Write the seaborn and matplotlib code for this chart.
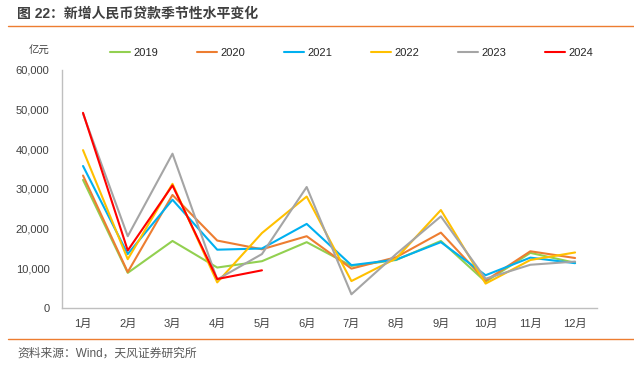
import pandas as pd
import matplotlib.pyplot as plt
import seaborn as sns
from matplotlib.lines import Line2D

# data (亿元)
months = ["1月", "2月", "3月", "4月", "5月", "6月", "7月", "8月", "9月", "10月", "11月", "12月"]
years = ["2019", "2020", "2021", "2022", "2023", "2024"]
y2019 = [32300, 8858, 16900, 10200, 11800, 16600, 10600, 12100, 16900, 6613, 13900, 11400]
y2020 = [33400, 9057, 28500, 17000, 14800, 18100, 9927, 12800, 19000, 6898, 14300, 12600]
y2021 = [35800, 13600, 27300, 14700, 15000, 21200, 10800, 12200, 16600, 8262, 12700, 11300]
y2022 = [39800, 12300, 31300, 6454, 18900, 28100, 6790, 12500, 24700, 6152, 12100, 14000]
y2023 = [49000, 18100, 38900, 7188, 13600, 30500, 3459, 13600, 23100, 7384, 10900, 11700]
y2024 = [49200, 14500, 30900, 7300, 9500]
colors = ["#92D050", "#ED7D31", "#00B0F0", "#FFC000", "#A5A5A5", "#FF0000"]

rows = []
for yr, vals in zip(years, [y2019, y2020, y2021, y2022, y2023, y2024]):
    for m, v in zip(months, vals):
        rows.append({"month": m, "year": yr, "value": v})
df = pd.DataFrame(rows)

sns.set_style("white")
plt.rcParams["font.family"] = ["Liberation Sans", "Noto Sans CJK SC"]

fig = plt.figure(figsize=(6.34, 3.65), dpi=100)
ax = fig.add_axes([62 / 634, 1 - 308 / 365, (597 - 62) / 634, (308 - 70) / 365])

sns.lineplot(data=df, x="month", y="value", hue="year", palette=colors,
             sort=False, linewidth=1.5, ax=ax, legend=False)

ax.set_xlim(-0.47, 11.49)
ax.set_ylim(0, 60000)
ax.set_yticks(range(0, 60001, 10000))
ax.set_yticklabels(["0"] + [f"{v:,}" for v in range(10000, 60001, 10000)])
ax.set_xlabel("")
ax.set_ylabel("")
ax.tick_params(axis="both", length=0, labelsize=8, labelcolor="#404040")
ax.tick_params(axis="x", pad=8)
ax.tick_params(axis="y", pad=9)
for s in ["top", "right"]:
    ax.spines[s].set_visible(False)
for s in ["left", "bottom"]:
    ax.spines[s].set_color("#BFBFBF")
    ax.spines[s].set_linewidth(1)

handles = [Line2D([], [], color=c, lw=1.5) for c in colors]
fig.legend(handles, years, ncol=6, loc="center", bbox_to_anchor=(0.555, 1 - 53 / 365),
           frameon=False, fontsize=8, handlelength=1.8, handletextpad=0.3,
           columnspacing=3.5, labelcolor="#262626")

fig.text(39 / 634, 1 - 51 / 365, "亿元", fontsize=7.5, color="#404040", ha="center", va="center")

fig.text(17 / 634, 1 - 14 / 365, "图 22：新增人民币贷款季节性水平变化", fontsize=10,
         fontweight="bold", color="#404040", ha="left", va="center")
fig.add_artist(Line2D([8 / 634, 1], [1 - 25.5 / 365] * 2, color="#ED7D31", lw=1))
fig.add_artist(Line2D([8 / 634, 1], [1 - 339 / 365] * 2, color="#ED7D31", lw=1))
fig.text(17 / 634, 1 - 354 / 365, "资料来源：Wind，天风证券研究所", fontsize=8.5,
         color="#595959", ha="left", va="center")

fig.savefig("out.png", dpi=100)
